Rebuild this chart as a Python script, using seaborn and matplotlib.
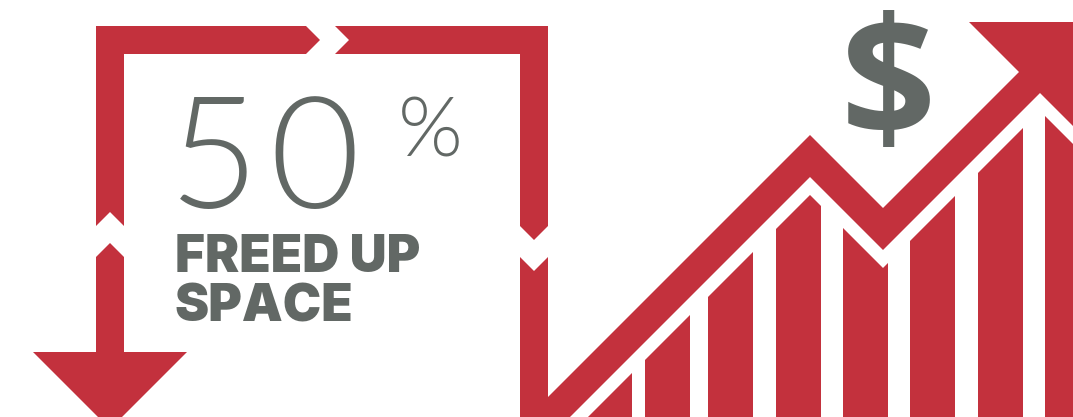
import numpy as np
import matplotlib
matplotlib.use("Agg")
import matplotlib.pyplot as plt
from matplotlib.patches import Polygon
import seaborn as sns

W, H = 1073, 417
RED = "#C3313D"
GREY = "#626865"

# bars under the trend arrow: centre x and height (pixels from the bottom)
bar_x = [609.5, 667.5, 730.5, 798.5, 865.5, 932.0, 1000.0, 1067.5]
bar_h = [52, 110, 173, 234, 199, 227, 296, 357]
bar_w = 45

# trend arrow outline, joined to the lower right leg of the frame (y from the top)
trend_x = [520, 534, 548, 548, 810, 883, 1019, 969, 1090, 1090, 1040, 883, 810, 520]
trend_y = [257, 271, 257, 397, 135, 208, 72, 22, 22, 143, 93, 250, 177, 467]

# frame pieces (y from the top)
top_left_x = [96, 96, 306, 320, 306, 124, 124, 110]
top_left_y = [226, 26, 26, 40, 54, 54, 226, 212]
top_right_x = [335, 548, 548, 534, 520, 520, 335, 349]
top_right_y = [26, 26, 226, 240, 226, 54, 54, 40]
down_x = [96, 110, 124, 124, 187, 110, 33, 96]
down_y = [257, 243, 257, 352, 352, 429, 352, 352]

big_number = "50"
digit_x = [169, 269]
unit = "%"
caption = ["FREED UP", "SPACE"]
money = "$"


def shape(xs, ys):
    return np.column_stack([xs, H - np.asarray(ys, dtype=float)])


sns.set_style("white")
fig = plt.figure(figsize=(W / 100, H / 100), dpi=100)
ax = fig.add_axes([0, 0, 1, 1])

sns.barplot(x=bar_x, y=bar_h, native_scale=True, width=bar_w / np.min(np.diff(bar_x)),
            color=RED, saturation=1, errorbar=None, linewidth=0, ax=ax, zorder=1)

# white halo around the trend arrow cuts the bar tops
ax.add_patch(Polygon(shape(trend_x, trend_y), closed=True, facecolor="white",
                     edgecolor="white", linewidth=18.3, joinstyle="miter", zorder=2))
for xs, ys in [(trend_x, trend_y), (top_left_x, top_left_y),
               (top_right_x, top_right_y), (down_x, down_y)]:
    ax.add_patch(Polygon(shape(xs, ys), closed=True, facecolor=RED,
                         edgecolor="none", zorder=3))

# the big figure is spaced out, so each digit is placed on its own
for ch, x in zip(big_number, digit_x):
    ax.text(x, H - 208, ch, fontsize=112, fontweight=300, family="Lato",
            color=GREY, ha="left", va="baseline", zorder=4)
ax.text(398, H - 156, unit, fontsize=60, fontweight=300, family="Lato",
        color=GREY, ha="left", va="baseline", zorder=4)
for line, base in zip(caption, [272, 322]):
    ax.text(175, H - base, line, fontsize=37, fontweight=900, family="Inter",
            color=GREY, ha="left", va="baseline", zorder=4)
ax.text(888, H - 137, money, fontsize=120, fontweight="bold", family="Open Sans",
        color=GREY, ha="center", va="baseline", zorder=4)

ax.set_xlim(0, W)
ax.set_ylim(0, H)
ax.axis("off")
fig.savefig("out.png", dpi=100, facecolor="white")
